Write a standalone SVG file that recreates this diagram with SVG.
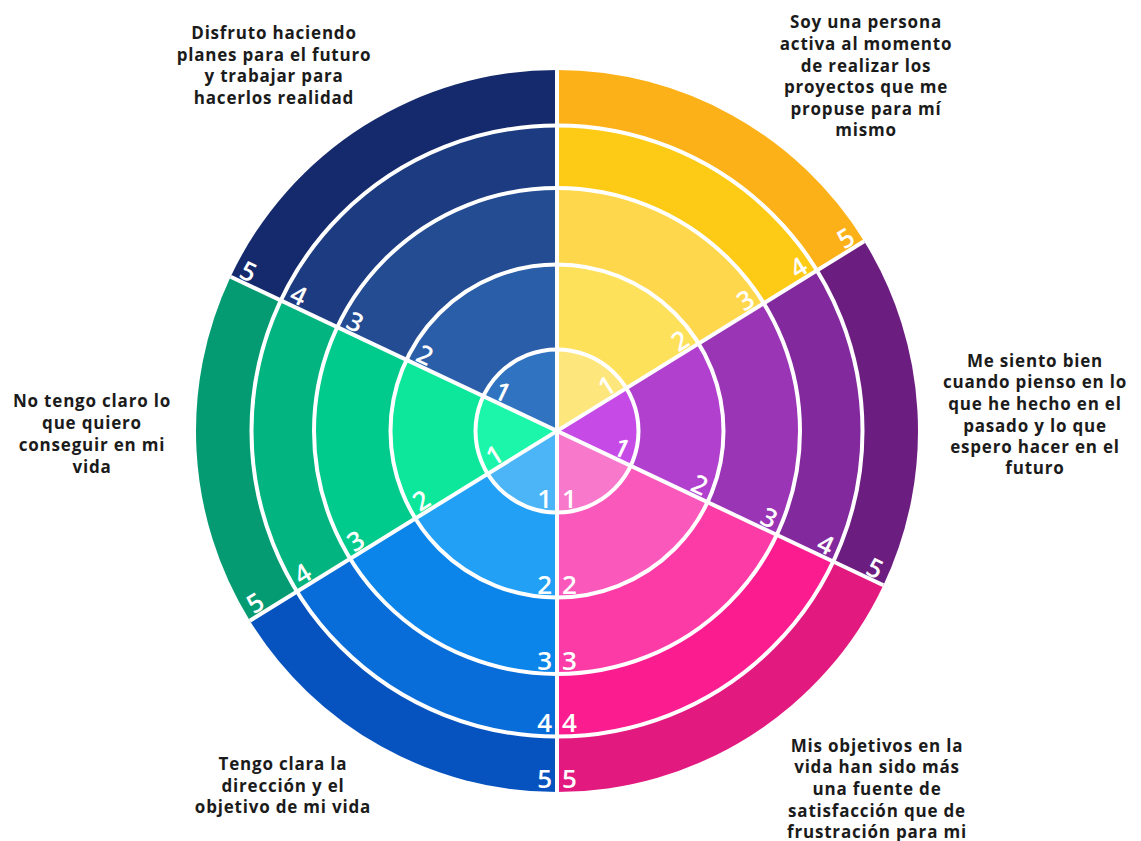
<svg xmlns="http://www.w3.org/2000/svg" width="1141" height="841" viewBox="0 0 1141 841">
<style>
.sep{stroke:#ffffff;stroke-width:4;fill:none}
.num{fill:#ffffff;font-family:"Open Sans","Noto Sans",sans-serif;font-weight:600;font-size:26px}
.lbl{fill:#1b1b1b;font-family:"Open Sans","Liberation Sans",sans-serif;font-weight:700;font-size:17px;letter-spacing:0.8px;text-anchor:middle}
</style>
<rect width="1141" height="841" fill="#ffffff"/>

<g id="sector-plan-futuro">
<path d="M557 431 L230.63 276.72 A361 361 0 0 1 557 70 Z" fill="#152a6c"/>
<path d="M557 431 L280.80 300.44 A305.5 305.5 0 0 1 557 125.5 Z" fill="#1c3b80"/>
<path d="M557 431 L337.31 327.15 A243 243 0 0 1 557 188 Z" fill="#234c93"/>
<path d="M557 431 L406.47 359.84 A166.5 166.5 0 0 1 557 264.5 Z" fill="#2a5ea8"/>
<path d="M557 431 L483.32 396.17 A81.5 81.5 0 0 1 557 349.5 Z" fill="#3073c0"/>
<g class="num" text-anchor="middle">
<text transform="translate(498.61 400.08) rotate(25.3)">1</text>
<text transform="translate(420.86 363.33) rotate(25.3)">2</text>
<text transform="translate(351.25 330.42) rotate(25.3)">3</text>
<text transform="translate(294.74 303.71) rotate(25.3)">4</text>
<text transform="translate(244.56 279.99) rotate(25.3)">5</text>
</g>
</g>

<g id="sector-activa">
<path d="M557 431 L557 70 A361 361 0 0 1 864.14 241.30 Z" fill="#fbb117"/>
<path d="M557 431 L557 125.5 A305.5 305.5 0 0 1 816.92 270.47 Z" fill="#fdcb16"/>
<path d="M557 431 L557 188 A243 243 0 0 1 763.75 303.31 Z" fill="#fed74c"/>
<path d="M557 431 L557 264.5 A166.5 166.5 0 0 1 698.66 343.51 Z" fill="#fee15a"/>
<path d="M557 431 L557 349.5 A81.5 81.5 0 0 1 626.34 388.17 Z" fill="#fde77c"/>
<g class="num" text-anchor="middle">
<text transform="translate(611.57 393.77) rotate(-31.7)">1</text>
<text transform="translate(684.74 348.58) rotate(-31.7)">2</text>
<text transform="translate(750.26 308.12) rotate(-31.7)">3</text>
<text transform="translate(803.43 275.28) rotate(-31.7)">4</text>
<text transform="translate(850.65 246.11) rotate(-31.7)">5</text>
</g>
</g>

<g id="sector-me-siento-bien">
<path d="M557 431 L864.14 241.30 A361 361 0 0 1 883.37 585.28 Z" fill="#6c1d80"/>
<path d="M557 431 L816.92 270.47 A305.5 305.5 0 0 1 833.20 561.56 Z" fill="#82299e"/>
<path d="M557 431 L763.75 303.31 A243 243 0 0 1 776.69 534.85 Z" fill="#9a35b6"/>
<path d="M557 431 L698.66 343.51 A166.5 166.5 0 0 1 707.53 502.16 Z" fill="#b040cd"/>
<path d="M557 431 L626.34 388.17 A81.5 81.5 0 0 1 630.68 465.83 Z" fill="#c64be6"/>
<g class="num" text-anchor="middle">
<text transform="translate(617.95 456.50) rotate(25.3)">1</text>
<text transform="translate(695.70 493.25) rotate(25.3)">2</text>
<text transform="translate(765.31 526.15) rotate(25.3)">3</text>
<text transform="translate(821.82 552.86) rotate(25.3)">4</text>
<text transform="translate(871.00 576.58) rotate(25.3)">5</text>
</g>
</g>

<g id="sector-objetivos">
<path d="M557 431 L883.37 585.28 A361 361 0 0 1 557 792 Z" fill="#e2197f"/>
<path d="M557 431 L833.20 561.56 A305.5 305.5 0 0 1 557 736.5 Z" fill="#fb1d8f"/>
<path d="M557 431 L776.69 534.85 A243 243 0 0 1 557 674 Z" fill="#fc3ba6"/>
<path d="M557 431 L707.53 502.16 A166.5 166.5 0 0 1 557 597.5 Z" fill="#fb58bb"/>
<path d="M557 431 L630.68 465.83 A81.5 81.5 0 0 1 557 512.5 Z" fill="#f878cb"/>
<g class="num" text-anchor="start">
<text x="562" y="508">1</text>
<text x="562" y="594">2</text>
<text x="562" y="670">3</text>
<text x="562" y="732">4</text>
<text x="562" y="788">5</text>
</g>
</g>

<g id="sector-direccion">
<path d="M557 431 L557 792 A361 361 0 0 1 249.86 620.70 Z" fill="#0653bf"/>
<path d="M557 431 L557 736.5 A305.5 305.5 0 0 1 297.08 591.53 Z" fill="#086dd9"/>
<path d="M557 431 L557 674 A243 243 0 0 1 350.25 558.69 Z" fill="#0b85e9"/>
<path d="M557 431 L557 597.5 A166.5 166.5 0 0 1 415.34 518.49 Z" fill="#22a0f5"/>
<path d="M557 431 L557 512.5 A81.5 81.5 0 0 1 487.66 473.83 Z" fill="#4cb5f7"/>
<g class="num" text-anchor="end">
<text x="552" y="508">1</text>
<text x="552" y="594">2</text>
<text x="552" y="670">3</text>
<text x="552" y="732">4</text>
<text x="552" y="788">5</text>
</g>
</g>

<g id="sector-no-claro">
<path d="M557 431 L249.86 620.70 A361 361 0 0 1 230.63 276.72 Z" fill="#059b72"/>
<path d="M557 431 L297.08 591.53 A305.5 305.5 0 0 1 280.80 300.44 Z" fill="#02b47f"/>
<path d="M557 431 L350.25 558.69 A243 243 0 0 1 337.31 327.15 Z" fill="#01cb8c"/>
<path d="M557 431 L415.34 518.49 A166.5 166.5 0 0 1 406.47 359.84 Z" fill="#0ce79b"/>
<path d="M557 431 L487.66 473.83 A81.5 81.5 0 0 1 483.32 396.17 Z" fill="#1cf6aa"/>
<g class="num" text-anchor="middle">
<text transform="translate(499.27 463.13) rotate(-31.7)">1</text>
<text transform="translate(426.10 508.32) rotate(-31.7)">2</text>
<text transform="translate(360.58 548.78) rotate(-31.7)">3</text>
<text transform="translate(307.41 581.62) rotate(-31.7)">4</text>
<text transform="translate(260.19 610.79) rotate(-31.7)">5</text>
</g>
</g>

<g id="separators" class="sep">
<circle cx="557" cy="431" r="81.5"/>
<circle cx="557" cy="431" r="166.5"/>
<circle cx="557" cy="431" r="243"/>
<circle cx="557" cy="431" r="305.5"/>
<line x1="557" y1="69" x2="557" y2="793"/>
<line x1="230.63" y1="276.72" x2="883.37" y2="585.28"/>
<line x1="249.86" y1="620.70" x2="864.14" y2="241.30"/>
</g>

<g id="label-plan-futuro" class="lbl">
<text x="274" y="39">Disfruto haciendo</text>
<text x="274" y="61">planes para el futuro</text>
<text x="274" y="82">y trabajar para</text>
<text x="274" y="104">hacerlos realidad</text>
</g>
<g id="label-activa" class="lbl">
<text x="866" y="28">Soy una persona</text>
<text x="866" y="50">activa al momento</text>
<text x="866" y="72">de realizar los</text>
<text x="866" y="93">proyectos que me</text>
<text x="866" y="115">propuse para mí</text>
<text x="866" y="136">mismo</text>
</g>
<g id="label-me-siento-bien" class="lbl">
<text x="1035" y="367">Me siento bien</text>
<text x="1035" y="388">cuando pienso en lo</text>
<text x="1035" y="410">que he hecho en el</text>
<text x="1035" y="432">pasado y lo que</text>
<text x="1035" y="453">espero hacer en el</text>
<text x="1035" y="474">futuro</text>
</g>
<g id="label-objetivos" class="lbl">
<text x="877" y="752">Mis objetivos en la</text>
<text x="877" y="773">vida han sido más</text>
<text x="877" y="795">una fuente de</text>
<text x="877" y="817">satisfacción que de</text>
<text x="877" y="838">frustración para mi</text>
</g>
<g id="label-direccion" class="lbl">
<text x="283" y="770">Tengo clara la</text>
<text x="283" y="792">dirección y el</text>
<text x="283" y="813">objetivo de mi vida</text>
</g>
<g id="label-no-claro" class="lbl">
<text x="92" y="407">No tengo claro lo</text>
<text x="92" y="429">que quiero</text>
<text x="92" y="451">conseguir en mi</text>
<text x="92" y="473">vida</text>
</g>
</svg>
